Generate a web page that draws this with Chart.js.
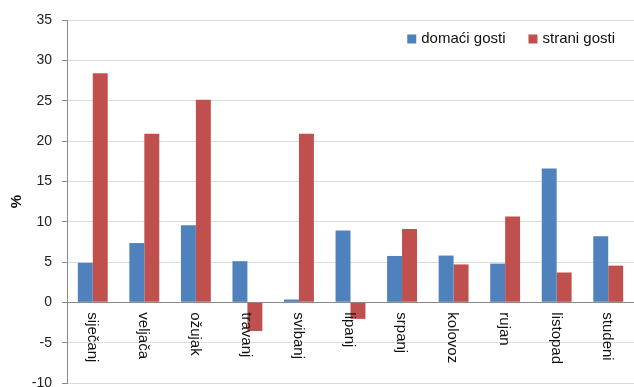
<!DOCTYPE html>
<html>
<head>
<meta charset="utf-8">
<script src="https://cdn.jsdelivr.net/npm/chart.js@4"></script>
<style>
  html, body { margin: 0; padding: 0; background: #fff; }
  #wrap { width: 634px; height: 387px; }
</style>
</head>
<body>
<div id="wrap"><canvas id="chart"></canvas></div>
<script>
const months = ['siječanj', 'veljača', 'ožujak', 'travanj', 'svibanj', 'lipanj', 'srpanj', 'kolovoz', 'rujan', 'listopad', 'studeni'];
const domaci = [4.9, 7.35, 9.55, 5.1, 0.35, 8.9, 5.75, 5.8, 4.8, 16.6, 8.2];
const strani = [28.4, 20.9, 25.1, -3.55, 20.9, -2.05, 9.1, 4.7, 10.65, 3.7, 4.55];
const seriesNames = ['domaći gosti', 'strani gosti'];

const FONT = '"Liberation Sans", Arial, sans-serif';

// month names under the zero line, rotated clockwise like the original
const monthLabels = {
  id: 'monthLabels',
  afterDraw(chart) {
    const ctx = chart.ctx;
    const x = chart.scales.x;
    const y = chart.scales.y;
    const y0 = y.getPixelForValue(0);
    ctx.save();
    ctx.font = '15px ' + FONT;
    ctx.fillStyle = '#111';
    ctx.textAlign = 'left';
    ctx.textBaseline = 'middle';
    months.forEach((m, i) => {
      ctx.save();
      ctx.translate(x.getPixelForTick(i) - 1, y0 + 10);
      ctx.rotate(Math.PI / 2);
      ctx.fillText(m, 0, 0);
      ctx.restore();
    });
    ctx.restore();
  }
};

// legend sitting inside the plot, top right
const innerLegend = {
  id: 'innerLegend',
  afterDraw(chart) {
    const ctx = chart.ctx;
    const area = chart.chartArea;
    const box = 9, gapText = 5, gapItem = 23;
    ctx.save();
    ctx.font = '15px ' + FONT;
    ctx.textBaseline = 'middle';
    ctx.textAlign = 'left';
    const items = chart.data.datasets.map(d => ({ text: d.label, color: d.backgroundColor, w: ctx.measureText(d.label).width }));
    let total = 0;
    items.forEach((it, i) => { total += box + gapText + it.w + (i ? gapItem : 0); });
    let x = area.right - 19 - total;
    const cy = area.top + 19;
    items.forEach(it => {
      ctx.fillStyle = it.color;
      ctx.fillRect(x, cy - box / 2, box, box);
      ctx.fillStyle = '#111';
      ctx.fillText(it.text, x + box + gapText, cy);
      x += box + gapText + it.w + gapItem;
    });
    ctx.restore();
  }
};

new Chart(document.getElementById('chart'), {
  type: 'bar',
  data: {
    labels: months,
    datasets: [
      { label: seriesNames[0], data: domaci, backgroundColor: '#4F81BD', borderWidth: 0 },
      { label: seriesNames[1], data: strani, backgroundColor: '#C0504D', borderWidth: 0 }
    ]
  },
  options: {
    responsive: true,
    maintainAspectRatio: false,
    animation: false,
    layout: { padding: { top: 20, bottom: 4, left: 0, right: 0 } },
    datasets: { bar: { categoryPercentage: 0.58, barPercentage: 1.0 } },
    plugins: {
      tooltip: { enabled: false },
      legend: { display: false }
    },
    scales: {
      x: {
        display: false
      },
      y: {
        min: -10,
        max: 35,
        ticks: {
          stepSize: 5,
          padding: 10,
          color: '#222',
          font: { family: FONT, size: 14 }
        },
        grid: {
          color: ctx => (ctx.tick && ctx.tick.value === 0) ? '#8a8a8a' : '#dcdcdc',
          tickColor: '#8a8a8a',
          tickLength: 5
        },
        border: { color: '#8a8a8a' },
        title: {
          display: true,
          text: '%',
          color: '#111',
          font: { family: FONT, size: 15, weight: 'bold' },
          padding: { top: 8, bottom: 0 }
        },
        afterFit(scale) {
          scale.width = 67;
          scale.paddingTop = 0;
          scale.paddingBottom = 0;
        }
      }
    }
  },
  plugins: [monthLabels, innerLegend]
});
</script>
</body>
</html>
